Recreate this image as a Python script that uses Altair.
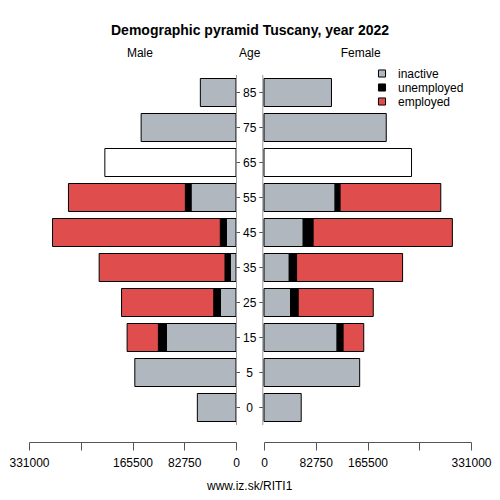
import altair as alt
import pandas as pd

ages = ["85", "75", "65", "55", "45", "35", "25", "15", "5", "0"]
statuses = ["inactive", "unemployed", "employed"]
status_colors = ["#b1b7be", "#000000", "#e04d4d"]

male_inactive = [57000, 151700, 0, 71900, 15500, 9100, 25000, 111300, 161800, 61800]
male_unemployed = [0, 0, 0, 9100, 9600, 8500, 10600, 12800, 0, 0]
male_employed = [0, 0, 0, 186900, 268300, 201200, 147400, 50000, 0, 0]
female_inactive = [107900, 195500, 0, 113700, 62700, 40400, 42500, 116900, 153000, 59500]
female_unemployed = [0, 0, 0, 8000, 15900, 11700, 12200, 9600, 0, 0]
female_employed = [0, 0, 0, 161000, 222600, 169500, 120000, 33000, 0, 0]
total_age = ["65"]
male_total = [209700]
female_total = [235900]

tick_values = [0, 82750, 165500, 248250, 331000]
XMAX = 331000

FONT = "Liberation Sans"
W_SIDE = 207
W_MID = 27.3
H = 350
HEAD_Y = -22.5


def long_df(inactive, unemployed, employed):
    rows = []
    for i, a in enumerate(ages):
        for k, (s, arr) in enumerate(zip(statuses, [inactive, unemployed, employed])):
            if arr[i] > 0:
                rows.append({"age": a, "status": s, "ord": k, "value": arr[i]})
    return pd.DataFrame(rows)


male_df = long_df(male_inactive, male_unemployed, male_employed)
female_df = long_df(female_inactive, female_unemployed, female_employed)
male_tot_df = pd.DataFrame({"age": total_age, "value": male_total})
female_tot_df = pd.DataFrame({"age": total_age, "value": female_total})
mid_df = pd.DataFrame({"age": ages})

yscale = alt.Scale(domain=ages, paddingInner=0.2, paddingOuter=0.1)
color_scale = alt.Scale(domain=statuses, range=status_colors)


def xaxis():
    return alt.Axis(
        values=tick_values,
        format="d",
        labelExpr="datum.value == 248250 ? '' : datum.label",
        labelOverlap=False,
        labelFlush=False,
        grid=False,
        offset=17,
        tickSize=8,
        labelPadding=7,
        labelFontSize=12,
        labelFont=FONT,
        labelColor="#000",
        domainColor="#555",
        tickColor="#555",
        title=None,
    )


def head(text, xpos):
    return alt.Chart(pd.DataFrame({"t": [text]})).mark_text(
        fontSize=12, font=FONT, color="#000", baseline="middle"
    ).encode(x=alt.value(xpos), y=alt.value(HEAD_Y), text="t:N")


def side(df, tot_df, reverse, title, xpos, legend):
    xsc = alt.Scale(domain=[0, XMAX], reverse=reverse, nice=False)
    bars = alt.Chart(df).mark_bar(stroke="#000", strokeWidth=1).encode(
        x=alt.X("value:Q", stack="zero", scale=xsc, axis=xaxis()),
        y=alt.Y("age:N", scale=yscale, axis=None),
        color=alt.Color("status:N", scale=color_scale, legend=legend),
        order=alt.Order("ord:Q"),
    )
    tot = alt.Chart(tot_df).mark_bar(fill="#ffffff", stroke="#000", strokeWidth=1).encode(
        x=alt.X("value:Q", scale=xsc),
        y=alt.Y("age:N", scale=yscale, axis=None),
    )
    return alt.layer(bars, tot, head(title, xpos)).properties(width=W_SIDE, height=H)


legend = alt.Legend(
    title=None,
    orient="none",
    legendX=112,
    legendY=-7.5,
    symbolType="square",
    symbolSize=50,
    symbolStrokeColor="#000",
    symbolStrokeWidth=1,
    symbolOpacity=1,
    labelFontSize=12,
    labelFont=FONT,
    labelOffset=10,
    padding=0,
)

left = side(male_df, male_tot_df, True, "Male", 110.9, None)
right = side(female_df, female_tot_df, False, "Female", 96.7, legend)

base_mid = alt.Chart(mid_df).encode(y=alt.Y("age:N", scale=yscale, axis=None))
mid_text = base_mid.mark_text(fontSize=12, font=FONT, color="#000").encode(
    x=alt.value(W_MID / 2), text="age:N"
)
tick_l = base_mid.mark_rule(color="#555").encode(x=alt.value(0.5), x2=alt.value(4))
tick_r = base_mid.mark_rule(color="#555").encode(x=alt.value(W_MID - 4), x2=alt.value(W_MID - 0.5))
vline = alt.Chart(pd.DataFrame({"p": [0.5, W_MID - 0.5]})).mark_rule(color="#999").encode(
    x=alt.X("p:Q", scale=alt.Scale(domain=[0, W_MID], range=[0, W_MID], nice=False, zero=False), axis=None)
)
footer = alt.Chart(pd.DataFrame({"t": ["www.iz.sk/RITI1"]})).mark_text(
    fontSize=12, font=FONT, color="#000"
).encode(x=alt.value(W_MID / 2), y=alt.value(H + 60.5), text="t:N")

mid = alt.layer(vline, tick_l, tick_r, mid_text, footer, head("Age", W_MID / 2)).properties(
    width=W_MID, height=H
)

chart = alt.hconcat(left, mid, right, spacing=0, bounds="flush").resolve_scale(
    x="independent", color="independent"
).resolve_legend(color="independent").properties(
    title=alt.TitleParams(
        "Demographic pyramid Tuscany, year 2022",
        fontSize=14,
        font=FONT,
        fontWeight="bold",
        anchor="middle",
        offset=9,
    ),
    padding={"top": 15, "left": 0, "right": 0, "bottom": 0},
).configure_view(stroke=None)

chart.save("out.html", embed_options={"renderer": "svg", "actions": False})
